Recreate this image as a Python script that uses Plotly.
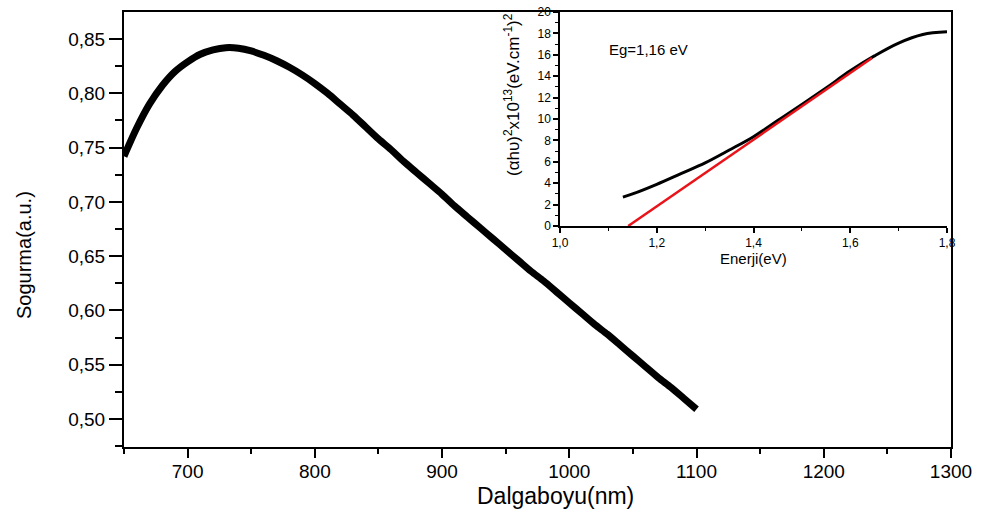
import plotly.graph_objects as go

# Main spectrum: wavelength (nm) vs absorbance (a.u.)
wavelength = [650, 660, 670, 680, 690, 700, 710, 720, 730, 740, 750, 760, 770, 780, 790,
              800, 810, 820, 830, 840, 850, 860, 870, 880, 890, 900, 910, 920, 930, 940,
              950, 960, 970, 980, 990, 1000, 1010, 1020, 1030, 1040, 1050, 1060, 1070,
              1080, 1090, 1100]
absorbance = [0.742, 0.768, 0.790, 0.807, 0.820, 0.829, 0.836, 0.840, 0.842, 0.8415, 0.839,
              0.835, 0.830, 0.824, 0.817, 0.809, 0.800, 0.790, 0.780, 0.769, 0.758, 0.748,
              0.737, 0.727, 0.717, 0.707, 0.696, 0.686, 0.676, 0.666, 0.656, 0.646, 0.636,
              0.627, 0.617, 0.607, 0.597, 0.587, 0.578, 0.568, 0.558, 0.548, 0.538, 0.529,
              0.519, 0.509]

# Inset: Tauc plot
energy = [1.13, 1.15, 1.20, 1.25, 1.30, 1.35, 1.40, 1.45, 1.50, 1.55, 1.60, 1.65, 1.70, 1.75, 1.80]
tauc = [2.7, 3.0, 3.9, 4.9, 5.9, 7.1, 8.35, 9.85, 11.35, 12.9, 14.5, 15.9, 17.1, 17.9, 18.15]
fit_energy = [1.141, 1.645]
fit_tauc = [0.0, 15.7]

W, H = 989, 516

def px(x):
    return x / W

def py(y):
    return 1 - y / H

fig = go.Figure()
fig.add_trace(go.Scatter(x=wavelength, y=absorbance, mode="lines",
                         line=dict(color="black", width=7, shape="spline", smoothing=0.8),
                         xaxis="x", yaxis="y", showlegend=False))
fig.add_trace(go.Scatter(x=energy, y=tauc, mode="lines",
                         line=dict(color="black", width=3, shape="spline"),
                         xaxis="x2", yaxis="y2", showlegend=False))
fig.add_trace(go.Scatter(x=fit_energy, y=fit_tauc, mode="lines",
                         line=dict(color="#e8141a", width=2.5),
                         xaxis="x2", yaxis="y2", showlegend=False))

font_main = "Liberation Sans, Arial, sans-serif"

fig.update_layout(
    template="none",
    width=W, height=H,
    margin=dict(l=0, r=0, t=0, b=0, pad=0),
    paper_bgcolor="white", plot_bgcolor="white",
    separators=",.",
    font=dict(family=font_main, color="black"),
    xaxis=dict(domain=[px(124), px(951)], range=[650, 1300], anchor="y", automargin=False,
               tick0=0, dtick=100, tickformat="d",
               ticks="outside", ticklen=9, tickwidth=2, tickcolor="black",
               minor=dict(ticks="outside", ticklen=5, tickwidth=2, tickcolor="black", dtick=50),
               showline=True, linewidth=2, linecolor="black", mirror=True,
               showgrid=False, zeroline=False, ticklabelstandoff=-3,
               tickfont=dict(size=19, family=font_main)),
    yaxis=dict(domain=[py(447), py(12)], range=[0.4742, 0.8749], anchor="x", automargin=False,
               tick0=0, dtick=0.05, tickformat=".2f",
               ticks="outside", ticklen=13, tickwidth=2, tickcolor="black",
               minor=dict(ticks="outside", ticklen=7, tickwidth=2, tickcolor="black", dtick=0.025),
               showline=True, linewidth=2, linecolor="black", mirror=True,
               showgrid=False, zeroline=False,
               tickfont=dict(size=19, family=font_main)),
    xaxis2=dict(domain=[px(560), px(947)], range=[1.0, 1.8], anchor="y2", automargin=False,
                tick0=0, dtick=0.2, tickformat=".1f",
                ticks="outside", ticklen=5, tickwidth=1.5, tickcolor="black",
                minor=dict(ticks="outside", ticklen=3, tickwidth=1, tickcolor="black", dtick=0.1),
                showline=True, linewidth=1.5, linecolor="black",
                showgrid=False, zeroline=False,
                tickfont=dict(size=12, family=font_main)),
    yaxis2=dict(domain=[py(226), py(12)], range=[0, 20], anchor="x2", automargin=False,
                tick0=0, dtick=2, tickformat="d",
                ticks="outside", ticklen=5, tickwidth=1.5, tickcolor="black",
                minor=dict(ticks="outside", ticklen=3, tickwidth=1, tickcolor="black", dtick=1),
                showline=True, linewidth=1.5, linecolor="black",
                showgrid=False, zeroline=False,
                tickfont=dict(size=12, family=font_main)),
    annotations=[
        dict(text="Dalgaboyu(nm)", x=px(555), y=py(496), xref="paper", yref="paper",
             xanchor="center", yanchor="middle",
             showarrow=False, font=dict(size=23, family=font_main)),
        dict(text="Sogurma(a.u.)", x=px(24), y=py(255), xref="paper", yref="paper",
             xanchor="center", yanchor="middle",
             showarrow=False, textangle=-90, font=dict(size=20, family=font_main)),
        dict(text="Enerji(eV)", x=px(753), y=py(258), xref="paper", yref="paper",
             xanchor="center", yanchor="middle",
             showarrow=False, font=dict(size=15, family=font_main)),
        dict(text="(αhυ)<sup>2</sup>x10<sup>13</sup>(eV.cm<sup>-1</sup>)<sup>2</sup>",
             x=px(512), y=py(95), xref="paper", yref="paper",
             xanchor="center", yanchor="middle",
             showarrow=False, textangle=-90, font=dict(size=17, family=font_main)),
        dict(text="Eg=1,16 eV", x=px(607), y=py(50), xref="paper", yref="paper",
             xanchor="left", yanchor="middle", showarrow=False,
             font=dict(size=15, family=font_main)),
    ],
)

fig.write_html("out.html")
